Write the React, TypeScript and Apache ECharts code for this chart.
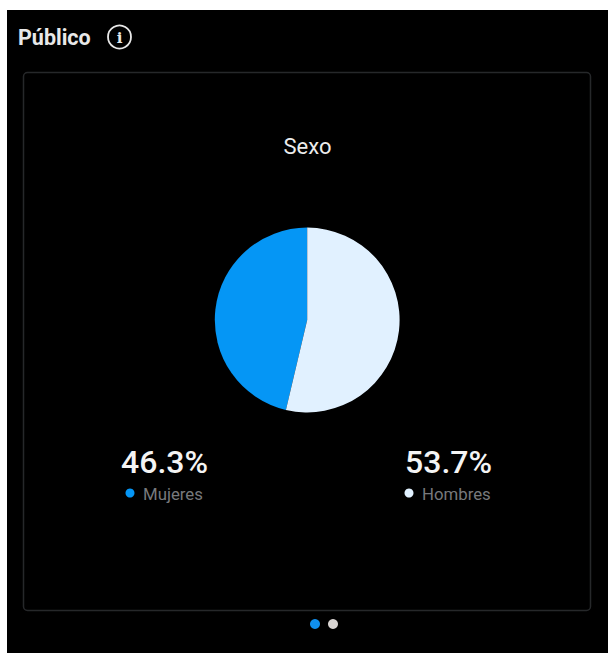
import React, { useEffect, useRef } from "react";
import * as echarts from "echarts";

const categories = ["Mujeres", "Hombres"];
const shares = [46.3, 53.7];
const sliceColors = ["#0596f5", "#e1f1ff"];
const chartTitle = "Sexo";
const sectionTitle = "Público";
const font = "Roboto, sans-serif";

export default function App() {
  const ref = useRef<HTMLDivElement>(null);
  useEffect(() => {
    const chart = echarts.init(ref.current!, null, { renderer: "svg" });
    const legendBlocks = categories.flatMap((name, i) => {
      const cx = i === 0 ? 164.5 : 448.5;
      const dotX = i === 0 ? 130 : 409;
      return [
        {
          type: "text",
          x: cx,
          y: 462,
          style: {
            text: `${shares[i].toFixed(1)}%`,
            fill: "#f4f4f4",
            font: `500 32px ${font}`,
            align: "center",
            verticalAlign: "middle",
          },
        },
        { type: "circle", shape: { cx: dotX, cy: 493, r: 4.5 }, style: { fill: sliceColors[i] } },
        {
          type: "text",
          x: dotX + 13,
          y: 494,
          style: {
            text: name,
            fill: "#77797c",
            font: `400 16.8px ${font}`,
            align: "left",
            verticalAlign: "middle",
          },
        },
      ];
    });
    chart.setOption({
      animation: false,
      backgroundColor: "#ffffff",
      series: [
        {
          type: "pie",
          center: [307.2, 320],
          radius: [0, 92.4],
          startAngle: 90,
          clockwise: false,
          silent: true,
          label: { show: false },
          labelLine: { show: false },
          data: categories.map((name, i) => ({
            name,
            value: shares[i],
            itemStyle: { color: sliceColors[i] },
          })),
          z: 5,
        },
      ],
      graphic: [
        { type: "rect", z: -10, shape: { x: 7, y: 10, width: 601, height: 643 }, style: { fill: "#000000" } },
        {
          type: "rect",
          z: -9,
          shape: { x: 23.5, y: 72.5, width: 567, height: 538, r: 4 },
          style: { fill: "#000000", stroke: "#26282a", lineWidth: 1.5 },
        },
        {
          type: "text",
          x: 18,
          y: 37,
          style: {
            text: sectionTitle,
            fill: "#e8e8e8",
            font: `700 21.5px ${font}`,
            align: "left",
            verticalAlign: "middle",
          },
        },
        { type: "circle", shape: { cx: 119.5, cy: 37, r: 11.5 }, style: { fill: "none", stroke: "#e8e8e8", lineWidth: 1.8 } },
        {
          type: "text",
          x: 119.5,
          y: 37.5,
          style: { text: "i", fill: "#e8e8e8", font: `700 15px "DejaVu Serif", serif`, align: "center", verticalAlign: "middle" },
        },
        {
          type: "text",
          x: 307.5,
          y: 146,
          style: { text: chartTitle, fill: "#ececec", font: `400 22px ${font}`, align: "center", verticalAlign: "middle" },
        },
        ...legendBlocks,
        { type: "circle", shape: { cx: 315, cy: 624, r: 5 }, style: { fill: "#0f8fef" } },
        { type: "circle", shape: { cx: 333, cy: 624, r: 5 }, style: { fill: "#d9d5d3" } },
      ],
    });
    return () => chart.dispose();
  }, []);
  return <div ref={ref} style={{ position: "fixed", left: 0, top: 0, width: 608, height: 653 }} />;
}
